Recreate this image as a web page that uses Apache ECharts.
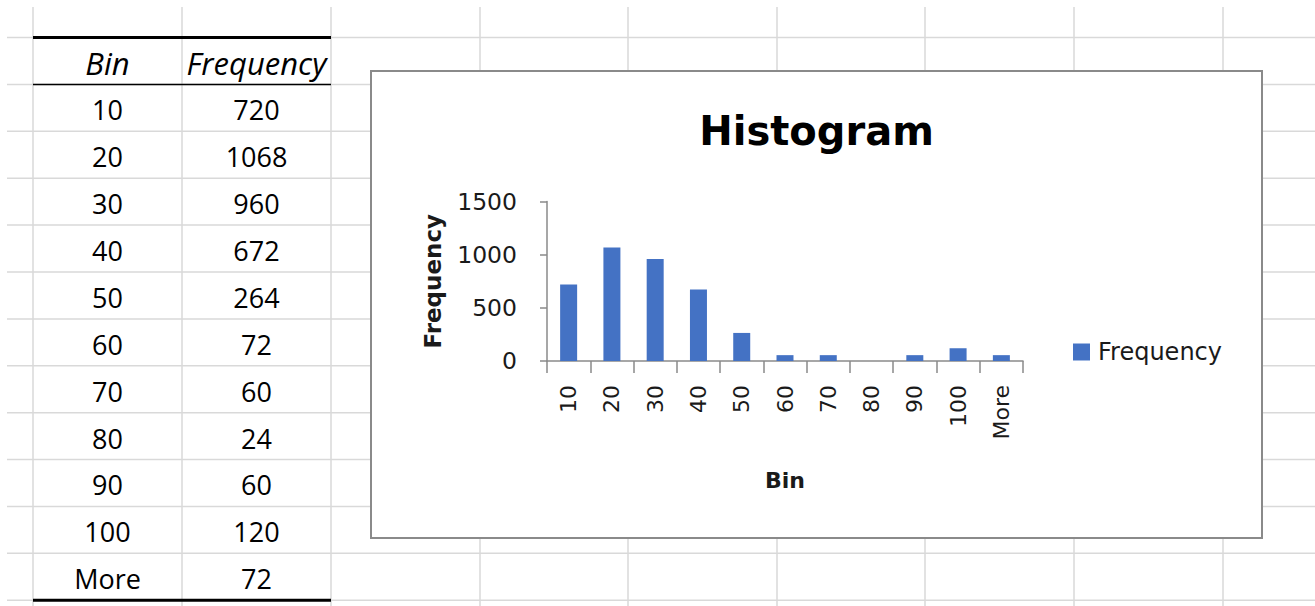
<!DOCTYPE html>
<html>
<head>
<meta charset="utf-8">
<script src="https://cdn.jsdelivr.net/npm/echarts@6/dist/echarts.min.js"></script>
<style>
html,body{margin:0;padding:0;background:#fff;}
#main{width:1315px;height:606px;}
</style>
</head>
<body>
<div id="main"></div>
<script>
// ---- data ----
const bins = ['10', '20', '30', '40', '50', '60', '70', '80', '90', '100', 'More'];
const tableFrequency = [720, 1068, 960, 672, 264, 72, 60, 24, 60, 120, 72];
// bar heights
const chartFrequency = [720, 1068, 960, 672, 264, 55, 55, 0, 55, 120, 55];
const tableHeaders = ['Bin', 'Frequency'];
const yTicks = [0, 500, 1000, 1500];
const chartTitle = 'Histogram';
const seriesName = 'Frequency';
const xAxisName = 'Bin';
const yAxisName = 'Frequency';

// ---- layout constants ----
const colX = [33, 182, 331, 480, 628, 777, 925, 1074, 1223];
const rowY0 = 37.6, rowH = 46.88, rowCount = 12;
const gridColor = '#d9d9d9';
const tableFont = '"Open Sans", "Liberation Sans", sans-serif';
const chartFont = '"DejaVu Sans", sans-serif';

const graphics = [];
// spreadsheet gridlines
colX.forEach(x => {
  graphics.push({type: 'line', z: -5, silent: true,
    shape: {x1: x, y1: 7, x2: x, y2: 606},
    style: {stroke: gridColor, lineWidth: 1.5}});
});
for (let k = 0; k <= rowCount; k++) {
  const y = rowY0 + rowH * k;
  graphics.push({type: 'line', z: -5, silent: true,
    shape: {x1: 7, y1: y, x2: 1315, y2: y},
    style: {stroke: gridColor, lineWidth: 1.5}});
}
// table borders
graphics.push({type: 'line', z: -4, silent: true,
  shape: {x1: colX[0], y1: rowY0, x2: colX[2], y2: rowY0},
  style: {stroke: '#000', lineWidth: 3}});
graphics.push({type: 'line', z: -4, silent: true,
  shape: {x1: colX[0], y1: rowY0 + rowH, x2: colX[2], y2: rowY0 + rowH},
  style: {stroke: '#000', lineWidth: 1.5}});
graphics.push({type: 'line', z: -4, silent: true,
  shape: {x1: colX[0], y1: rowY0 + rowH * rowCount, x2: colX[2], y2: rowY0 + rowH * rowCount},
  style: {stroke: '#000', lineWidth: 3}});
// table header
tableHeaders.forEach((h, i) => {
  graphics.push({type: 'text', z: -3, silent: true,
    x: (colX[i] + colX[i + 1]) / 2, y: rowY0 + rowH / 2 + 2,
    style: {text: h, align: 'center', verticalAlign: 'middle',
      fontFamily: tableFont, fontSize: 31, fontStyle: 'italic', fill: '#000'}});
});
// table rows
bins.forEach((b, r) => {
  const cy = rowY0 + rowH * (r + 1) + rowH / 2 + 2;
  graphics.push({type: 'text', z: -3, silent: true,
    x: (colX[0] + colX[1]) / 2, y: cy,
    style: {text: b, align: 'center', verticalAlign: 'middle',
      fontFamily: tableFont, fontSize: 27, fill: '#000'}});
  graphics.push({type: 'text', z: -3, silent: true,
    x: (colX[1] + colX[2]) / 2, y: cy,
    style: {text: String(tableFrequency[r]), align: 'center', verticalAlign: 'middle',
      fontFamily: tableFont, fontSize: 27, fill: '#000'}});
});
// chart box
graphics.push({type: 'rect', z: -2, silent: true,
  shape: {x: 371, y: 71, width: 891, height: 467},
  style: {fill: '#fff', stroke: '#8a8a8a', lineWidth: 2}});
// chart title
graphics.push({type: 'text', z: 5, silent: true,
  x: 816.5, y: 131,
  style: {text: chartTitle, align: 'center', verticalAlign: 'middle',
    fontFamily: chartFont, fontSize: 40, fontWeight: 'bold', fill: '#000'}});

const axisGray = '#8a8a8a';
const labelColor = '#1a1a1a';

const chart = echarts.init(document.getElementById('main'), null, {renderer: 'svg'});
chart.setOption({
  animation: false,
  graphic: {elements: graphics},
  grid: {left: 547, right: 292, top: 201.5, bottom: 245, containLabel: false},
  legend: {
    data: [seriesName],
    left: 1068, top: 335,
    icon: 'rect', itemWidth: 17, itemHeight: 17,
    textStyle: {fontFamily: chartFont, fontSize: 24, color: labelColor, padding: [0, 0, 0, 3]}
  },
  xAxis: {
    type: 'category',
    data: bins,
    name: xAxisName,
    nameLocation: 'middle',
    nameGap: 108,
    nameTextStyle: {fontFamily: chartFont, fontSize: 22, fontWeight: 'bold', color: labelColor},
    axisLine: {lineStyle: {color: axisGray, width: 1.5}},
    axisTick: {show: true, length: 12, lineStyle: {color: axisGray, width: 1.5}},
    axisLabel: {rotate: 90, margin: 24, interval: 0,
      fontFamily: chartFont, fontSize: 22, color: labelColor},
    splitLine: {show: false}
  },
  yAxis: {
    type: 'value',
    min: yTicks[0], max: yTicks[yTicks.length - 1], interval: yTicks[1] - yTicks[0],
    name: yAxisName,
    nameLocation: 'middle',
    nameRotate: 90,
    nameGap: 103,
    nameTextStyle: {fontFamily: chartFont, fontSize: 23, fontWeight: 'bold', color: labelColor},
    axisLine: {show: true, lineStyle: {color: axisGray, width: 1.5}},
    axisTick: {show: true, length: 7, lineStyle: {color: axisGray, width: 1.5}},
    axisLabel: {margin: 30, fontFamily: chartFont, fontSize: 23.5, color: labelColor,
      formatter: v => String(v)},
    splitLine: {show: false}
  },
  series: [{
    name: seriesName,
    type: 'bar',
    data: chartFrequency,
    barWidth: 17,
    itemStyle: {color: '#4472C4'}
  }]
});
</script>
</body>
</html>
